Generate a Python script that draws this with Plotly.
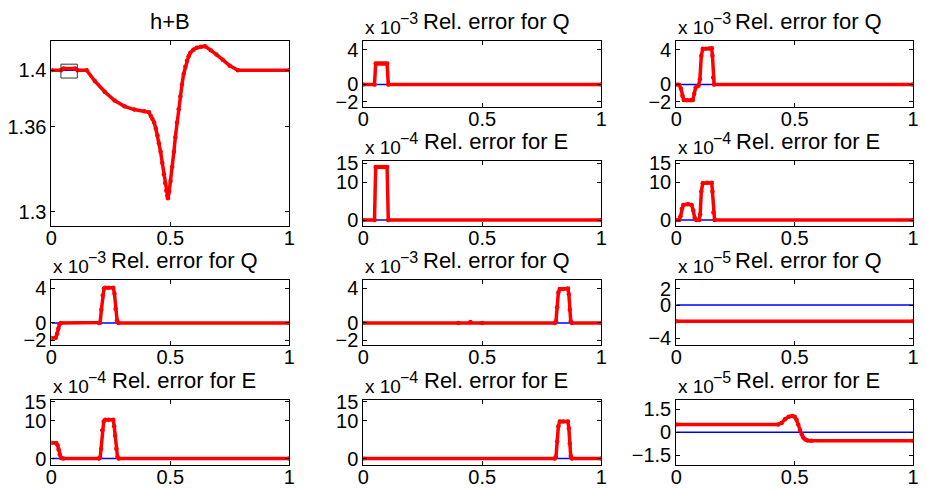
import plotly.graph_objects as go

W, H = 927, 493
FONT = "Liberation Sans, Arial, Helvetica, sans-serif"
RED = "#ff0000"
BLUE = "#0000ff"

# ---------------- data ----------------
# h+B (large panel)
hb_x = [0, 0.04, 0.05, 0.1, 0.11, 0.148, 0.1826, 0.224, 0.2656, 0.307, 0.3485, 0.39, 0.41,
        0.418, 0.425, 0.432, 0.439, 0.446, 0.452, 0.459, 0.466, 0.473, 0.478, 0.483, 0.487, 0.49,
        0.495, 0.501, 0.508, 0.515, 0.521, 0.528, 0.535, 0.542, 0.549, 0.556, 0.563, 0.57, 0.577,
        0.584, 0.597, 0.611, 0.628, 0.646, 0.67, 0.694, 0.72, 0.75, 0.784, 1.0]
hb_red = [1.4, 1.4, 1.4012, 1.4012, 1.4, 1.4, 1.3924, 1.3848, 1.3786, 1.3745, 1.3722, 1.3710, 1.3703,
          1.3676, 1.3655, 1.363, 1.3588, 1.3538, 1.3483, 1.3423, 1.3345, 1.3262, 1.3203, 1.3147, 1.3112, 1.3094,
          1.3140, 1.3216, 1.3318, 1.3423, 1.3527, 1.363, 1.3725, 1.3814, 1.3900, 1.3974, 1.4025, 1.4067, 1.4100,
          1.4124, 1.4145, 1.4159, 1.4166, 1.4170, 1.4142, 1.4112, 1.4075, 1.4032, 1.4, 1.4]
hb_blue = [1.4, 1.4, 1.4, 1.4, 1.4] + hb_red[5:]
box_x = [0.04, 0.109]
box_y = [1.3945, 1.4043]

# Rel. error panels (values in units of the axis multiplier)
q1_x = [0, 0.047, 0.052, 0.06, 0.07, 0.08, 0.09, 0.1, 0.105, 1]
q1_y = [0, 0, 2.4, 2.4, 2.4, 2.4, 2.4, 2.4, 0, 0]

e1_x = [0, 0.047, 0.052, 0.06, 0.07, 0.08, 0.09, 0.1, 0.105, 1]
e1_y = [0, 0, 14, 14, 14, 14, 14, 14, 0, 0]

q2_x = [0, 0.012, 0.02, 0.026, 0.032, 0.045, 0.06, 0.07, 0.076, 0.082, 0.094, 0.1, 0.106, 0.112,
        0.125, 0.14, 0.15, 0.153, 0.156, 0.16, 1]
q2_y = [0, -0.05, -0.5, -1.3, -1.8, -1.82, -1.82, -1.8, -1.1, -0.35, -0.15, 0.6, 3.3, 4.1,
        4.12, 4.14, 4.15, 3.3, 0.8, 0, 0]

e2_x = [0, 0.012, 0.018, 0.024, 0.03, 0.05, 0.065, 0.072, 0.078, 0.085, 0.097, 0.101, 0.106, 0.112,
        0.13, 0.15, 0.153, 0.157, 0.162, 1]
e2_y = [0, 0, 1.0, 3.0, 4.0, 4.2, 4.0, 2.5, 0.6, 0, 0, 1.5, 7.5, 9.7,
        9.8, 9.8, 7.5, 2.0, 0, 0]

q3_x = [0, 0.018, 0.024, 0.029, 0.034, 0.04, 0.2, 0.205, 0.21, 0.216, 0.221, 0.226, 0.24, 0.26,
        0.265, 0.27, 0.276, 0.282, 1]
q3_y = [-1.75, -1.7, -1.25, -0.65, -0.2, 0, 0, 0.05, 1.5, 3.2, 3.95, 4.05, 4.05, 4.05,
        3.4, 1.6, 0.3, 0, 0]

e3_x = [0, 0.02, 0.026, 0.03, 0.035, 0.041, 0.05, 0.2, 0.205, 0.209, 0.214, 0.22, 0.226, 0.24, 0.26,
        0.264, 0.268, 0.273, 0.278, 0.283, 1]
e3_y = [4.2, 4.1, 3.5, 2.4, 1.0, 0.15, 0, 0, 0.3, 2.6, 7.5, 9.8, 10.2, 10.2, 10.2,
        8.5, 6.0, 2.6, 0.4, 0, 0]

q4_x = [0, 0.4, 0.45, 0.5, 0.805, 0.81, 0.815, 0.82, 0.826, 0.84, 0.86, 0.864, 0.868, 0.872, 0.877, 1]
q4_y = [0, 0, 0.1, 0, 0, 0.2, 1.8, 3.5, 3.9, 3.92, 3.95, 3.3, 1.5, 0.2, 0, 0]

e4_x = [0, 0.805, 0.81, 0.815, 0.82, 0.826, 0.84, 0.86, 0.864, 0.868, 0.872, 0.877, 1]
e4_y = [0, 0, 0.5, 4.5, 8.5, 9.8, 9.8, 9.8, 8.0, 4.0, 0.7, 0, 0]

q5_x = [0, 1]
q5_y = [-1.95, -1.95]

e5_x = [0, 0.43, 0.445, 0.46, 0.475, 0.49, 0.5, 0.508, 0.515, 0.522, 0.53, 0.537, 0.545,
        0.555, 0.57, 1]
e5_y = [0.5, 0.5, 0.6, 0.85, 1.0, 1.05, 1.0, 0.8, 0.5, 0.15, -0.15, -0.35, -0.47,
        -0.53, -0.55, -0.55]

zero_x = [0, 1]
zero_y = [0, 0]

x_ticks = [0, 0.5, 1]
x_ticktext = ["0", "0.5", "1"]

# ---------------- layout geometry (pixels) ----------------
COLS = [(46, 287), (362, 603), (679, 919)]
ROWS = [(33, 101), (157, 224), (279, 347), (403, 470)]

Q3_RANGE, Q3_TV, Q3_TT = [-2.6, 5.0], [-2, 0, 4], ["\u22122", "0", "4"]
E4_RANGE, E4_TV, E4_TT = [-1.6, 15.5], [0, 10, 15], ["0", "10", "15"]

panels = [
    dict(col=0, rows=(0, 1), xs=[hb_x, hb_x], ys=[hb_blue, hb_red], rng=[1.2897, 1.4207],
         tv=[1.3, 1.36, 1.4], tt=["1.3", "1.36", "1.4"], title="h+B", exp=None),
    dict(col=1, rows=(0, 0), xs=[zero_x, q1_x], ys=[zero_y, q1_y], rng=Q3_RANGE, tv=Q3_TV, tt=Q3_TT,
         title="Rel. error for Q", exp="\u22123"),
    dict(col=2, rows=(0, 0), xs=[zero_x, q2_x], ys=[zero_y, q2_y], rng=Q3_RANGE, tv=Q3_TV, tt=Q3_TT,
         title="Rel. error for Q", exp="\u22123"),
    dict(col=1, rows=(1, 1), xs=[zero_x, e1_x], ys=[zero_y, e1_y], rng=E4_RANGE, tv=E4_TV, tt=E4_TT,
         title="Rel. error for E", exp="\u22124"),
    dict(col=2, rows=(1, 1), xs=[zero_x, e2_x], ys=[zero_y, e2_y], rng=E4_RANGE, tv=E4_TV, tt=E4_TT,
         title="Rel. error for E", exp="\u22124"),
    dict(col=0, rows=(2, 2), xs=[zero_x, q3_x], ys=[zero_y, q3_y], rng=Q3_RANGE, tv=Q3_TV, tt=Q3_TT,
         title="Rel. error for Q", exp="\u22123"),
    dict(col=1, rows=(2, 2), xs=[zero_x, q4_x], ys=[zero_y, q4_y], rng=Q3_RANGE, tv=Q3_TV, tt=Q3_TT,
         title="Rel. error for Q", exp="\u22123"),
    dict(col=2, rows=(2, 2), xs=[zero_x, q5_x], ys=[zero_y, q5_y], rng=[-4.9, 3.1], tv=[-4, 0, 2],
         tt=["\u22124", "0", "2"], title="Rel. error for Q", exp="\u22125"),
    dict(col=0, rows=(3, 3), xs=[zero_x, e3_x], ys=[zero_y, e3_y], rng=E4_RANGE, tv=E4_TV, tt=E4_TT,
         title="Rel. error for E", exp="\u22124"),
    dict(col=1, rows=(3, 3), xs=[zero_x, e4_x], ys=[zero_y, e4_y], rng=E4_RANGE, tv=E4_TV, tt=E4_TT,
         title="Rel. error for E", exp="\u22124"),
    dict(col=2, rows=(3, 3), xs=[zero_x, e5_x], ys=[zero_y, e5_y], rng=[-2.1, 2.1], tv=[-1.5, 0, 1.5],
         tt=["\u22121.5", "0", "1.5"], title="Rel. error for E", exp="\u22125"),
]

fig = go.Figure()
annotations = []
layout_axes = {}

axis_common = dict(showline=True, linecolor="black", linewidth=1, mirror="ticks",
                   ticks="inside", ticklen=4, tickwidth=1, tickcolor="black",
                   showgrid=False, zeroline=False, fixedrange=True,
                   tickfont=dict(family=FONT, size=20, color="black"))

for i, p in enumerate(panels, start=1):
    l, r = COLS[p["col"]]
    t = ROWS[p["rows"][0]][0]
    b = ROWS[p["rows"][1]][1]
    xa = "x" if i == 1 else f"x{i}"
    ya = "y" if i == 1 else f"y{i}"
    layout_axes["xaxis" if i == 1 else f"xaxis{i}"] = dict(
        axis_common, domain=[l / W, r / W], range=[0, 1], tickvals=x_ticks, ticktext=x_ticktext,
        anchor=ya, ticklabelstandoff=-6)
    layout_axes["yaxis" if i == 1 else f"yaxis{i}"] = dict(
        axis_common, domain=[1 - b / H, 1 - t / H], range=p["rng"], tickvals=p["tv"], ticktext=p["tt"],
        anchor=xa)
    # blue reference line
    fig.add_trace(go.Scatter(x=p["xs"][0], y=p["ys"][0], mode="lines", xaxis=xa, yaxis=ya,
                             line=dict(color=BLUE, width=1.5), hoverinfo="skip"))
    # red computed line with markers
    fig.add_trace(go.Scatter(x=p["xs"][1], y=p["ys"][1], mode="lines+markers", xaxis=xa, yaxis=ya,
                             line=dict(color=RED, width=3.5),
                             marker=dict(color=RED, size=4.5, symbol="circle"), hoverinfo="skip"))
    # titles
    if p["exp"] is None:
        cx = (l + r) / 2
    else:
        cx = (l + r) / 2 + 14
    annotations.append(dict(text=p["title"], xref="paper", yref="paper", x=cx / W, y=1 - t / H,
                            xanchor="center", yanchor="bottom", yshift=5, showarrow=False,
                            font=dict(family=FONT, size=22, color="black")))
    if p["exp"] is not None:
        annotations.append(dict(text="x 10", xref="paper", yref="paper",
                                x=l / W, y=1 - t / H, xanchor="left", yanchor="bottom", yshift=1,
                                showarrow=False, font=dict(family=FONT, size=19, color="black")))
        annotations.append(dict(text=p["exp"], xref="paper", yref="paper",
                                x=(l + 35) / W, y=1 - t / H, xanchor="left", yanchor="bottom", yshift=12,
                                showarrow=False, font=dict(family=FONT, size=16, color="black")))

fig.update_layout(
    width=W, height=H, margin=dict(l=0, r=0, t=0, b=0),
    paper_bgcolor="white", plot_bgcolor="white", showlegend=False,
    annotations=annotations,
    shapes=[dict(type="rect", xref="x", yref="y", x0=box_x[0], x1=box_x[1], y0=box_y[0], y1=box_y[1],
                 line=dict(color="#333333", width=1))],
    **layout_axes,
)

fig.write_html("out.html")
